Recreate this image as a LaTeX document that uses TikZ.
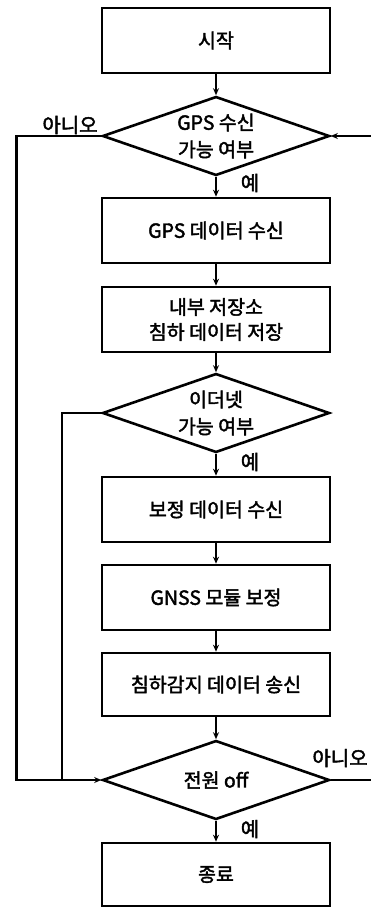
\documentclass[tikz,border=0pt]{standalone}
\usepackage{fontspec}
\setmainfont{Noto Sans CJK KR}[FakeBold=2]
\usetikzlibrary{shapes.geometric,arrows.meta}
\begin{document}
\begin{tikzpicture}[x=1pt,y=-1pt,
  line width=2.6pt,
  box/.style={draw,rectangle,minimum width=228pt,minimum height=65pt,inner sep=0pt,align=center,font=\fontsize{19.5}{25}\selectfont},
  dec/.style={draw,diamond,aspect=2.9,minimum width=227pt,minimum height=79pt,inner sep=0pt,align=center,font=\fontsize{19.5}{27}\selectfont},
  arr/.style={-{Stealth[length=7pt,width=6pt]}},
  lbl/.style={font=\fontsize{20}{22}\selectfont,inner sep=0pt}]
\useasboundingbox (0,0) rectangle (371,907);
\node[box] (start) at (216,40.5) {시작};
\node[dec] (d1) at (216,136) {GPS 수신\\가능 여부};
\node[box] (b2) at (216,230.5) {GPS 데이터 수신};
\node[box] (b3) at (216,319.5) {내부 저장소\\침하 데이터 저장};
\node[dec] (d2) at (216,413) {이더넷\\가능 여부};
\node[box] (b4) at (216,509.5) {보정 데이터 수신};
\node[box] (b5) at (216,597.5) {GNSS 모듈 보정};
\node[box,minimum height=63pt] (b6) at (216,684.5) {침하감지 데이터 송신};
\node[dec] (d4) at (216,780) {전원 off};
\node[box,minimum height=63pt] (end) at (216,874.5) {종료};

\coordinate (l1) at (16.5,136);
\coordinate (l2) at (16.5,780);
\coordinate (m1) at (62,413);
\coordinate (m2) at (62,780);
\coordinate (r1) at (375,780);
\coordinate (r2) at (375,136);

\draw[arr] (start) -- (d1);
\draw[arr] (d1) -- (b2);
\draw[arr] (b2) -- (b3);
\draw[arr] (b3) -- (d2);
\draw[arr] (d2) -- (b4);
\draw[arr] (b4) -- (b5);
\draw[arr] (b5) -- (b6);
\draw[arr] (b6) -- (d4);
\draw[arr] (d4) -- (end);
\draw[arr] (d1.west) -- (l1) -- (l2) -- (d4.west);
\draw (d2.west) -- (m1) -- (m2);
\draw[arr] (d4.east) -- (r1) -- (r2) -- (d1.east);

\node[lbl] (no1) at (70,125) {아니오};
\node[lbl] (yes1) at (250,183) {예};
\node[lbl] (yes2) at (250,462) {예};
\node[lbl] (yes4) at (250,829) {예};
\node[lbl] (no4) at (340,758) {아니오};
\end{tikzpicture}
\end{document}
